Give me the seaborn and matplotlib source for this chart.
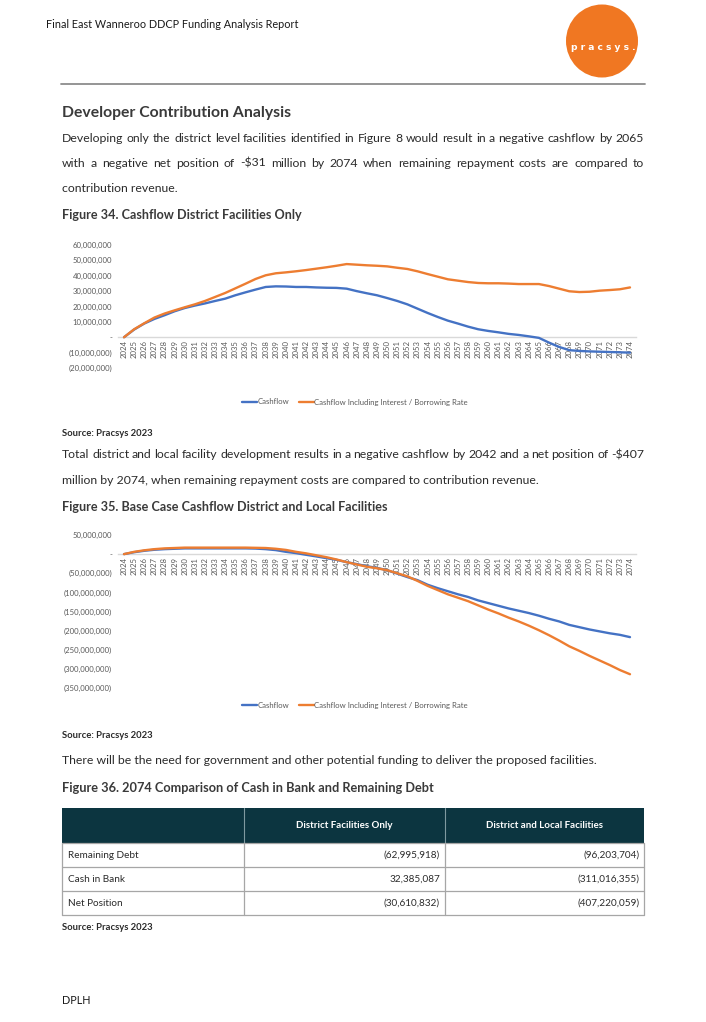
import matplotlib
matplotlib.use('Agg')
import matplotlib.pyplot as plt
import seaborn as sns
import pandas as pd
from matplotlib.patches import Ellipse, Rectangle
from matplotlib.lines import Line2D

# ---------------- data ----------------
years = list(range(2024, 2075))

# Figure 34 (millions)
fig34_cashflow = [0, 5.0, 8.9, 11.9, 14.3, 16.9, 19.0, 20.6, 22.0, 23.6,
                  25.1, 27.3, 29.2, 31.0, 32.7, 33.1, 33.0, 32.7, 32.7, 32.4,
                  32.2, 32.1, 31.6, 30.0, 28.6, 27.3, 25.5, 23.6, 21.4, 18.6,
                  15.8, 13.2, 10.8, 8.9, 6.9, 5.2, 4.1, 3.2, 2.2, 1.5,
                  0.6, -0.4, -3.5, -6.3, -8.4, -8.9, -9.2, -9.4, -9.6, -9.8,
                  -10.0]
fig34_interest = [0, 5.2, 9.1, 12.8, 15.4, 17.5, 19.5, 21.4, 23.6, 26.2,
                  28.8, 31.8, 34.8, 37.9, 40.3, 41.6, 42.2, 42.9, 43.7, 44.6,
                  45.5, 46.5, 47.6, 47.2, 46.8, 46.5, 46.1, 45.2, 44.4, 42.9,
                  41.1, 39.4, 37.7, 36.8, 35.9, 35.3, 35.1, 35.1, 34.9, 34.6,
                  34.6, 34.6, 33.3, 31.6, 29.9, 29.4, 29.6, 30.3, 30.7, 31.2,
                  32.4]

# Figure 35 (millions)
fig35_cashflow = [0, 5, 8.7, 11.4, 13, 14, 15, 15, 15, 15,
                  15, 15, 15, 14.5, 13, 10.5, 6, 2.6, -1.8, -6,
                  -10.5, -15, -21, -26, -31.6, -36, -42, -51, -60, -68,
                  -80, -89, -97, -105, -112, -121, -128, -135, -142, -148,
                  -154, -161, -169, -176, -185, -191, -197, -202, -207, -211,
                  -217]
fig35_interest = [0, 6, 10, 13, 15, 16, 17, 17, 17, 17,
                  17, 17, 17, 16.5, 16, 14, 11, 6, 2, -3,
                  -8, -14, -21, -27, -33, -37, -42, -50, -58, -70,
                  -83, -94, -105, -114, -123, -134, -145, -155, -166, -176,
                  -187, -199, -212, -226, -241, -253, -266, -278, -290, -303,
                  -314]

series_names = ["Cashflow", "Cashflow Including Interest / Borrowing Rate"]

table_cols = ["District Facilities Only", "District and Local Facilities"]
table_rows = ["Remaining Debt", "Cash in Bank", "Net Position"]
table_district = ["(62,995,918)", "32,385,087", "(30,610,832)"]
table_local = ["(96,203,704)", "(311,016,355)", "(407,220,059)"]

para1 = ["Developing only the district level facilities identified in Figure 8 would result in a negative cashflow by 2065",
         "with a negative net position of -$31 million by 2074 when remaining repayment costs are compared to",
         "contribution revenue."]
para2 = ["Total district and local facility development results in a negative cashflow by 2042 and a net position of -$407",
         "million by 2074, when remaining repayment costs are compared to contribution revenue."]
para3 = ["There will be the need for government and other potential funding to deliver the proposed facilities."]

# ---------------- style ----------------
sns.set_style('white')
BODY = ['Lato', 'DejaVu Sans']
NARROW = ['Lato', 'DejaVu Sans']
plt.rcParams['font.family'] = BODY
BLUE = '#4472C4'
ORANGE = '#ED7D31'
TXT = '#2b2b2b'
TICK = '#595959'

W, H = 706, 1022
fig = plt.figure(figsize=(W / 100, H / 100), dpi=100)
bg = fig.add_axes([0, 0, 1, 1])
bg.set_xlim(0, W)
bg.set_ylim(H, 0)
bg.axis('off')
renderer = fig.canvas.get_renderer()

# header
bg.text(46, 25, "Final East Wanneroo DDCP Funding Analysis Report", family=NARROW,
        fontsize=7.8, color='#1a1a1a', va='center', ha='left')
bg.add_patch(Ellipse((602, 41), 72, 73, color='#F07722', lw=0))
bg.text(603, 47, "p r a c s y s .", family=['DejaVu Sans'], fontsize=6.6, color='white',
        fontweight='bold', ha='center', va='center')
bg.plot([61, 645], [84, 84], color='#8c8c8c', lw=1.3)


def justified(lines, y0, lh, x0=62, x1=644, fs=8.85):
    for i, line in enumerate(lines):
        y = y0 + i * lh
        words = line.split(' ')
        last = (i == len(lines) - 1)
        if last or len(words) == 1:
            bg.text(x0, y, line, fontsize=fs, color=TXT, va='center', ha='left', family=BODY)
            continue
        objs = [bg.text(0, y, w, fontsize=fs, color=TXT, va='center', ha='left', family=BODY) for w in words]
        widths = [o.get_window_extent(renderer).width for o in objs]
        gap = (x1 - x0 - sum(widths)) / (len(words) - 1)
        x = x0
        for o, wdt in zip(objs, widths):
            o.set_x(x)
            x += wdt + gap


bg.text(62, 113, "Developer Contribution Analysis", fontsize=11.3, fontweight='bold',
        color='#3a3a3a', va='center', family=BODY)
justified(para1, 138, 25.5)
bg.text(62, 215, "Figure 34. Cashflow District Facilities Only", fontsize=9.1, fontweight='bold',
        color='#3a3a3a', va='center', family=BODY)
bg.text(62, 433, "Source: Pracsys 2023", fontsize=6.8, fontweight='bold', color=TXT, va='center', family=BODY)
justified(para2, 455, 25.5)
bg.text(62, 507, "Figure 35. Base Case Cashflow District and Local Facilities", fontsize=9.1,
        fontweight='bold', color='#3a3a3a', va='center', family=BODY)
bg.text(62, 736, "Source: Pracsys 2023", fontsize=6.8, fontweight='bold', color=TXT, va='center', family=BODY)
justified(para3, 760, 25.5)
bg.text(62, 788, "Figure 36. 2074 Comparison of Cash in Bank and Remaining Debt", fontsize=9.2,
        fontweight='bold', color='#3a3a3a', va='center', family=BODY)

# table
cx = [62, 244, 445, 644]
ry = [808, 843, 867, 891, 915]
bg.add_patch(Rectangle((cx[0], ry[0]), cx[3] - cx[0], ry[1] - ry[0], color='#0C3540', lw=0))
for j, col in enumerate(table_cols):
    bg.text((cx[j + 1] + cx[j + 2]) / 2, (ry[0] + ry[1]) / 2, col, family=NARROW, fontsize=7.0,
            fontweight='bold', color='white', ha='center', va='center')
for xx in cx[1:3]:
    bg.plot([xx, xx], [ry[0], ry[1]], color='#7f9aa0', lw=0.8)
gc = '#a6a6a6'
for yy in ry[1:]:
    bg.plot([cx[0], cx[3]], [yy, yy], color=gc, lw=0.9)
for xx in cx:
    bg.plot([xx, xx], [ry[1], ry[4]], color=gc, lw=0.9)
for i, rname in enumerate(table_rows):
    yc = (ry[i + 1] + ry[i + 2]) / 2
    bg.text(cx[0] + 6, yc, rname, family=NARROW, fontsize=7.2, color=TXT, ha='left', va='center')
    bg.text(cx[2] - 5, yc, table_district[i], family=NARROW, fontsize=7.2, color=TXT, ha='right', va='center')
    bg.text(cx[3] - 4, yc, table_local[i], family=NARROW, fontsize=7.2, color=TXT, ha='right', va='center')
bg.text(62, 927, "Source: Pracsys 2023", fontsize=6.8, fontweight='bold', color=TXT, va='center', family=BODY)
bg.text(62, 1000, "DPLH", family=NARROW, fontsize=7.8, color='#1a1a1a', va='center')


# ---------------- charts ----------------
def px_axes(left, top, right, bottom):
    return fig.add_axes([left / W, 1 - bottom / H, (right - left) / W, (bottom - top) / H])


def fmt(v):
    if v == 0:
        return "-"
    s = f"{abs(v) * 1e6:,.0f}"
    return f"({s})" if v < 0 else s


def chart(ax, cash, inter, ylo, yhi, step, legend_y):
    df = pd.DataFrame({'year': years * 2,
                       'value': cash + inter,
                       'series': [series_names[0]] * len(years) + [series_names[1]] * len(years)})
    sns.lineplot(data=df, x='year', y='value', hue='series', palette=[BLUE, ORANGE],
                 linewidth=1.7, ax=ax, legend=False)
    ax.set_facecolor('none')
    for s in ['top', 'right', 'left']:
        ax.spines[s].set_visible(False)
    ax.spines['bottom'].set_position(('data', 0))
    ax.spines['bottom'].set_color('#d9d9d9')
    ax.spines['bottom'].set_linewidth(1.0)
    ax.spines['bottom'].set_zorder(0)
    ppy = (630 - 124) / 50
    ax.set_xlim(2024 - 6 / ppy, 2074 + 6 / ppy)
    ax.set_ylim(ylo, yhi)
    ticks = list(range(ylo, yhi + 1, step))
    ax.set_yticks(ticks)
    ax.set_yticklabels([fmt(t) for t in ticks], family=NARROW, fontsize=5.6, color=TICK)
    ax.set_xticks(years)
    ax.set_xticklabels([str(y) for y in years], family=NARROW, fontsize=5.6, color=TICK)
    ax.tick_params(axis='x', labelrotation=90, pad=2, length=0)
    ax.tick_params(axis='y', pad=4.3, length=0)
    ax.set_xlabel('')
    ax.set_ylabel('')
    ax.grid(False)
    handles = [Line2D([], [], color=BLUE, lw=1.7), Line2D([], [], color=ORANGE, lw=1.7)]
    fig.legend(handles, series_names, loc='center', bbox_to_anchor=(355 / W, 1 - legend_y / H),
               ncol=2, frameon=False, handlelength=1.9, handletextpad=0.1, columnspacing=1.2,
               prop={'family': NARROW, 'size': 5.6}, labelcolor=TICK)


ax1 = px_axes(118, 245, 636, 368)
chart(ax1, fig34_cashflow, fig34_interest, -20, 60, 10, 402)
ax2 = px_axes(118, 535, 636, 688)
chart(ax2, fig35_cashflow, fig35_interest, -350, 50, 50, 705)

fig.savefig('out.png', dpi=100)
